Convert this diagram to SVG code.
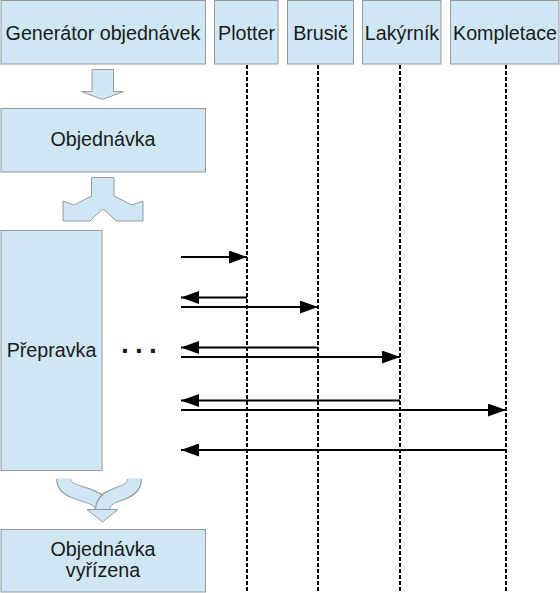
<svg xmlns="http://www.w3.org/2000/svg" width="560" height="593" viewBox="0 0 560 593">
<style>
.box{fill:#cfe7f5;stroke:#9a9a9a;stroke-width:1}
.lbl{font-family:"Liberation Sans",Arial,sans-serif;font-size:19.7px;fill:#1a1a1a;text-anchor:middle}
.life{stroke:#000;stroke-width:2;stroke-dasharray:4 2;fill:none}
.msg{stroke:#000;stroke-width:2;fill:none}
.blk{fill:#cfe7f5;stroke:#9a9a9a;stroke-width:1;stroke-linejoin:miter}
</style>
<defs>
<marker id="ah" viewBox="0 0 18 13" refX="18" refY="6.5" markerWidth="18" markerHeight="13" markerUnits="userSpaceOnUse" orient="auto">
<path d="M0,0 L18,6.5 L0,13 Z" fill="#000"/>
</marker>
</defs>
<rect width="560" height="593" fill="#fff"/>

<g id="generator">
<rect class="box" x="1" y="0.5" width="204.5" height="63.5"/>
<text class="lbl" x="103" y="39.5">Generátor objednávek</text>
</g>
<g id="plotter">
<rect class="box" x="214.5" y="0.5" width="63.5" height="63.5"/>
<text class="lbl" x="246.5" y="39.5">Plotter</text>
</g>
<g id="brusic">
<rect class="box" x="287.5" y="0.5" width="66" height="63.5"/>
<text class="lbl" x="320.5" y="39.5">Brusič</text>
</g>
<g id="lakyrnik">
<rect class="box" x="362.5" y="0.5" width="78.5" height="63.5"/>
<text class="lbl" x="402" y="39.5">Lakýrník</text>
</g>
<g id="kompletace">
<rect class="box" x="450.5" y="0.5" width="108.5" height="63.5"/>
<text class="lbl" x="505" y="39.5">Kompletace</text>
</g>
<g id="objednavka">
<rect class="box" x="1" y="108.5" width="204.5" height="63.5"/>
<text class="lbl" x="103" y="146">Objednávka</text>
</g>
<g id="prepravka">
<rect class="box" x="1" y="230.5" width="101" height="240"/>
<text class="lbl" x="51.5" y="356.5">Přepravka</text>
</g>
<g id="vyrizena">
<rect class="box" x="1" y="529.5" width="204.5" height="62.5"/>
<text class="lbl" x="103" y="556">Objednávka</text>
<text class="lbl" x="103" y="577">vyřízena</text>
</g>
<g id="dots">
<text x="121" y="353" style="font-family:'Liberation Sans',Arial,sans-serif;font-size:28px;font-weight:bold;letter-spacing:6.2px;fill:#1a1a1a">...</text>
</g>

<g id="flow-arrows">
<polygon class="blk" points="92,69.5 113.5,69.5 113.5,91.5 123.5,91.5 102.5,99.5 81.5,91.5 92,91.5"/>
<polygon class="blk" points="91.5,177.5 114,177.5 114,196 132,205 143,201 143,221 116,221 111,216 103,209 95,216 90,221 63,221 63,201 74,205 91.5,196"/>
<path d="M63.5,479 C63.5,498 102.5,490 102.5,510" fill="none" stroke="#9a9a9a" stroke-width="15"/>
<path d="M63.5,478 C63.5,498 102.5,490 102.5,511" fill="none" stroke="#cfe7f5" stroke-width="13"/>
<path d="M134.5,479 C134.5,498 102.5,490 102.5,510" fill="none" stroke="#9a9a9a" stroke-width="15"/>
<path d="M134.5,478 C134.5,498 102.5,490 102.5,511" fill="none" stroke="#cfe7f5" stroke-width="13"/>
<polygon class="blk" points="87,509.5 118,509.5 102.5,522"/>
</g>

<g id="lifelines">
<line class="life" x1="247" y1="65" x2="247" y2="593"/>
<line class="life" x1="318" y1="65" x2="318" y2="593"/>
<line class="life" x1="400" y1="65" x2="400" y2="593"/>
<line class="life" x1="506" y1="65" x2="506" y2="593"/>
</g>

<g id="connectors">
<line class="msg" x1="181" y1="257" x2="247" y2="257" marker-end="url(#ah)"/>
<line class="msg" x1="247" y1="297.5" x2="181" y2="297.5" marker-end="url(#ah)"/>
<line class="msg" x1="181" y1="307" x2="318" y2="307" marker-end="url(#ah)"/>
<line class="msg" x1="318" y1="347.5" x2="181" y2="347.5" marker-end="url(#ah)"/>
<line class="msg" x1="181" y1="357" x2="400" y2="357" marker-end="url(#ah)"/>
<line class="msg" x1="400" y1="400.5" x2="181" y2="400.5" marker-end="url(#ah)"/>
<line class="msg" x1="181" y1="410" x2="506" y2="410" marker-end="url(#ah)"/>
<line class="msg" x1="506" y1="450" x2="181" y2="450" marker-end="url(#ah)"/>
</g>
</svg>
